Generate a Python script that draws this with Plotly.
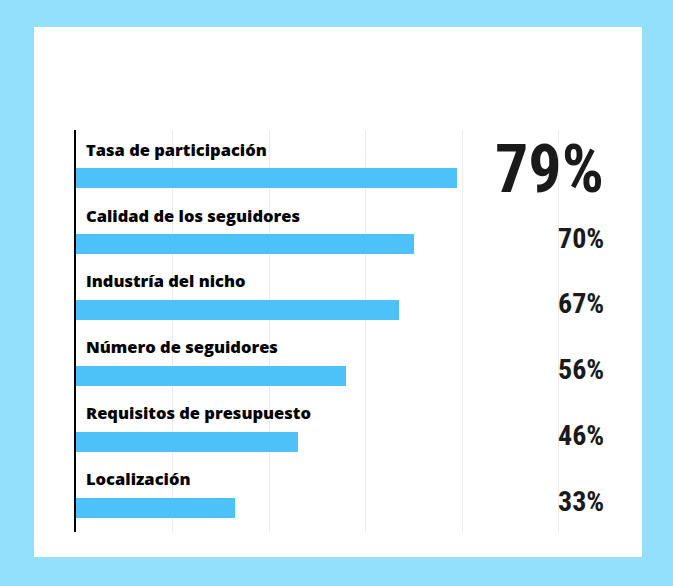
import plotly.graph_objects as go

categories = ["Tasa de participación", "Calidad de los seguidores", "Industría del nicho",
              "Número de seguidores", "Requisitos de presupuesto", "Localización"]
values = [79, 70, 67, 56, 46, 33]
grid_ticks = [0, 20, 40, 60, 80, 100]

BAR = "#4dc2f8"
BG = "#92e0fb"

fig = go.Figure()
fig.add_trace(go.Bar(
    x=values, y=categories, orientation="h",
    marker=dict(color=BAR, line=dict(width=0)),
    width=0.30, hoverinfo="skip",
))

annotations = []
for i, (c, v) in enumerate(zip(categories, values)):
    annotations.append(dict(
        x=0, y=c, xref="x", yref="y", text=c, showarrow=False,
        xanchor="left", yanchor="middle", xshift=8, yshift=29,
        font=dict(family="Open Sans, Lato, sans-serif", size=16.5, color="#000000", weight=800),
    ))
    big = (i == 0)
    annotations.append(dict(
        x=1.092, y=c, xref="paper", yref="y", text=f"{v}%", showarrow=False,
        xanchor="right", yanchor="middle", yshift=9 if big else 6,
        font=dict(family="Liberation Sans Narrow, Roboto Condensed, DejaVu Sans Condensed, sans-serif",
                  size=66 if big else 28, color="#1a1a1a", weight="bold"),
    ))

fig.update_layout(
    width=673, height=586,
    margin=dict(l=76, r=112, t=130, b=54),
    paper_bgcolor=BG, plot_bgcolor="#ffffff",
    showlegend=False,
    bargap=0,
    annotations=annotations,
    shapes=[dict(type="rect", xref="paper", yref="paper",
                 x0=-0.0866, x1=1.1670, y0=-0.0622, y1=1.256,
                 fillcolor="#ffffff", line=dict(width=0), layer="below")],
    xaxis=dict(range=[0, 100.5], tickvals=grid_ticks, showticklabels=False,
               showgrid=True, gridcolor="#ececec", gridwidth=1, zeroline=False,
               showline=False, fixedrange=True),
    yaxis=dict(range=[5.37, -0.73], showticklabels=False, showgrid=False,
               zeroline=False, showline=True, linecolor="#000000", linewidth=2,
               fixedrange=True),
)

fig.write_html(
    "out.html",
    config={"displayModeBar": False},
    post_script="document.body.style.margin='0';document.body.style.background='" + BG + "';",
)
